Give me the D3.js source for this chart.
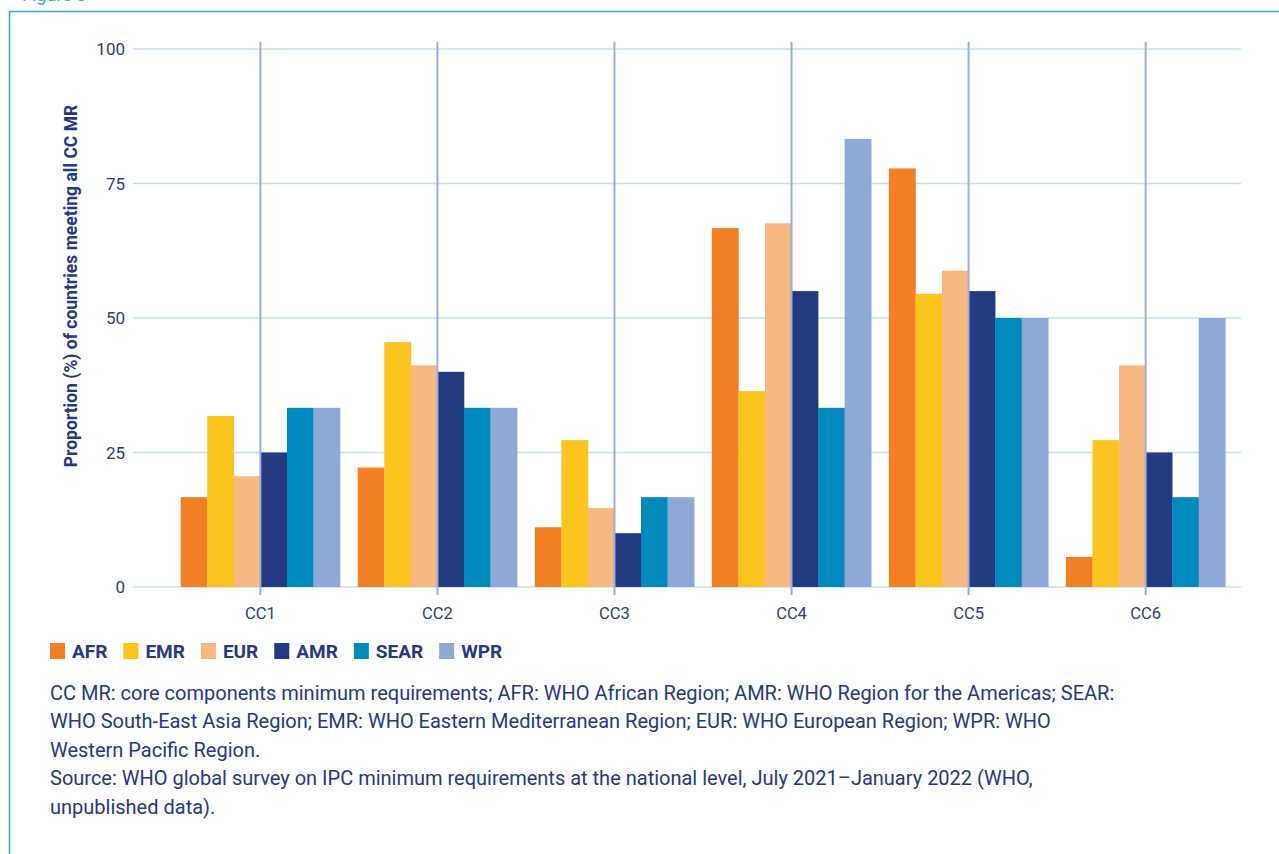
<!DOCTYPE html>
<html lang="en">
<head>
<meta charset="utf-8">
<style>
  body { margin: 0; background: #fff; }
  svg { display: block; font-family: Roboto, "Noto Sans", sans-serif; }
  .grid line { stroke: #c8e0ea; stroke-width: 1.5px; }
  .vline { stroke: #9aaedc; stroke-width: 2px; }
  .tick-label { fill: #2b3d84; font-size: 17px; }
  .note { fill: #26397f; font-size: 20px; }
</style>
<script src="https://cdn.jsdelivr.net/npm/d3@7"></script>
</head>
<body>
<svg width="1279" height="854"></svg>
<script>
var categories = ["CC1", "CC2", "CC3", "CC4", "CC5", "CC6"];
var regions = ["AFR", "EMR", "EUR", "AMR", "SEAR", "WPR"];
var colors = ["#f07f26", "#fcc41e", "#f8b881", "#233a80", "#0089bc", "#8fa8d6"];
var yTicks = [0, 25, 50, 75, 100];

// one array per region, values per CC
var AFR  = [16.7, 22.2, 11.1, 66.7, 77.8, 5.6];
var EMR  = [31.8, 45.5, 27.3, 36.4, 54.5, 27.3];
var EUR  = [20.6, 41.2, 14.7, 67.6, 58.8, 41.2];
var AMR  = [25.0, 40.0, 10.0, 55.0, 55.0, 25.0];
var SEAR = [33.3, 33.3, 16.7, 33.3, 50.0, 16.7];
var WPR  = [33.3, 33.3, 16.7, 83.3, 50.0, 50.0];

var series = [AFR, EMR, EUR, AMR, SEAR, WPR];

var notes = [
    "CC MR: core components minimum requirements; AFR: WHO African Region; AMR: WHO Region for the Americas; SEAR:",
    "WHO South-East Asia Region; EMR: WHO Eastern Mediterranean Region; EUR: WHO European Region; WPR: WHO",
    "Western Pacific Region.",
    "Source: WHO global survey on IPC minimum requirements at the national level, July 2021\u2013January 2022 (WHO,",
    "unpublished data)."
];

var svg = d3.select("svg");

// frame (figure label is cut by the top edge, as in the source page)
svg.append("text")
    .attr("x", 22).attr("y", 1)
    .attr("fill", "#3aa8d6").style("font-size", "18px")
    .text("Figure 3");
svg.append("path")
    .attr("d", "M9.5,854 V11.5 H1279")
    .attr("fill", "none").attr("stroke", "#3aa8d6").attr("stroke-width", 1.6);

var y = d3.scaleLinear().domain([0, 100]).range([587, 49]);
var x = d3.scaleBand().domain(categories).range([163, 1243])
    .paddingInner(0.1).paddingOuter(0.1);
var xs = d3.scaleBand().domain(regions).range([0, x.bandwidth()]);

// horizontal grid
svg.append("g").attr("class", "grid")
    .selectAll("line").data(yTicks).enter().append("line")
    .attr("x1", 133).attr("x2", 1241)
    .attr("y1", function(d) { return y(d); })
    .attr("y2", function(d) { return y(d); });

svg.append("g")
    .selectAll("text").data(yTicks).enter().append("text")
    .attr("class", "tick-label")
    .attr("x", 125)
    .attr("y", function(d) { return y(d) + 6; })
    .attr("text-anchor", "end")
    .text(function(d) { return d; });

// bars
var groups = svg.append("g")
    .selectAll("g").data(categories).enter().append("g")
    .attr("transform", function(d) { return "translate(" + x(d) + ",0)"; });

groups.selectAll("rect")
    .data(function(d, i) {
        return regions.map(function(r, j) { return { region: r, value: series[j][i], color: colors[j] }; });
    })
    .enter().append("rect")
    .attr("x", function(d) { return xs(d.region); })
    .attr("width", xs.bandwidth() + 0.3)
    .attr("y", function(d) { return y(d.value); })
    .attr("height", function(d) { return y(0) - y(d.value); })
    .attr("fill", function(d) { return d.color; });

// vertical lines at category centres
svg.append("g")
    .selectAll("line").data(categories).enter().append("line")
    .attr("class", "vline")
    .attr("x1", function(d) { return x(d) + x.bandwidth() / 2; })
    .attr("x2", function(d) { return x(d) + x.bandwidth() / 2; })
    .attr("y1", 42).attr("y2", 595);

svg.append("g")
    .selectAll("text").data(categories).enter().append("text")
    .attr("class", "tick-label")
    .style("font-size", "16.5px")
    .attr("x", function(d) { return x(d) + x.bandwidth() / 2; })
    .attr("y", 619)
    .attr("text-anchor", "middle")
    .text(function(d) { return d; });

// y axis title
svg.append("text")
    .attr("transform", "translate(77,286) rotate(-90)")
    .attr("text-anchor", "middle")
    .attr("fill", "#26397f")
    .style("font-size", "17.5px").style("font-weight", "bold")
    .text("Proportion (%) of countries meeting all CC MR");

// legend
var lx = 50;
regions.forEach(function(r, i) {
    svg.append("rect")
        .attr("x", lx).attr("y", 643).attr("width", 15).attr("height", 16)
        .attr("fill", colors[i]);
    var t = svg.append("text")
        .attr("x", lx + 22).attr("y", 658)
        .attr("fill", "#26397f")
        .style("font-size", "19px").style("font-weight", "bold")
        .text(r);
    lx = lx + 22 + t.node().getComputedTextLength() + 16;
});

// notes
svg.append("g")
    .selectAll("text").data(notes).enter().append("text")
    .attr("class", "note")
    .attr("x", 50)
    .attr("y", function(d, i) { return 700 + i * 28.4; })
    .text(function(d) { return d; });
</script>
</body>
</html>
